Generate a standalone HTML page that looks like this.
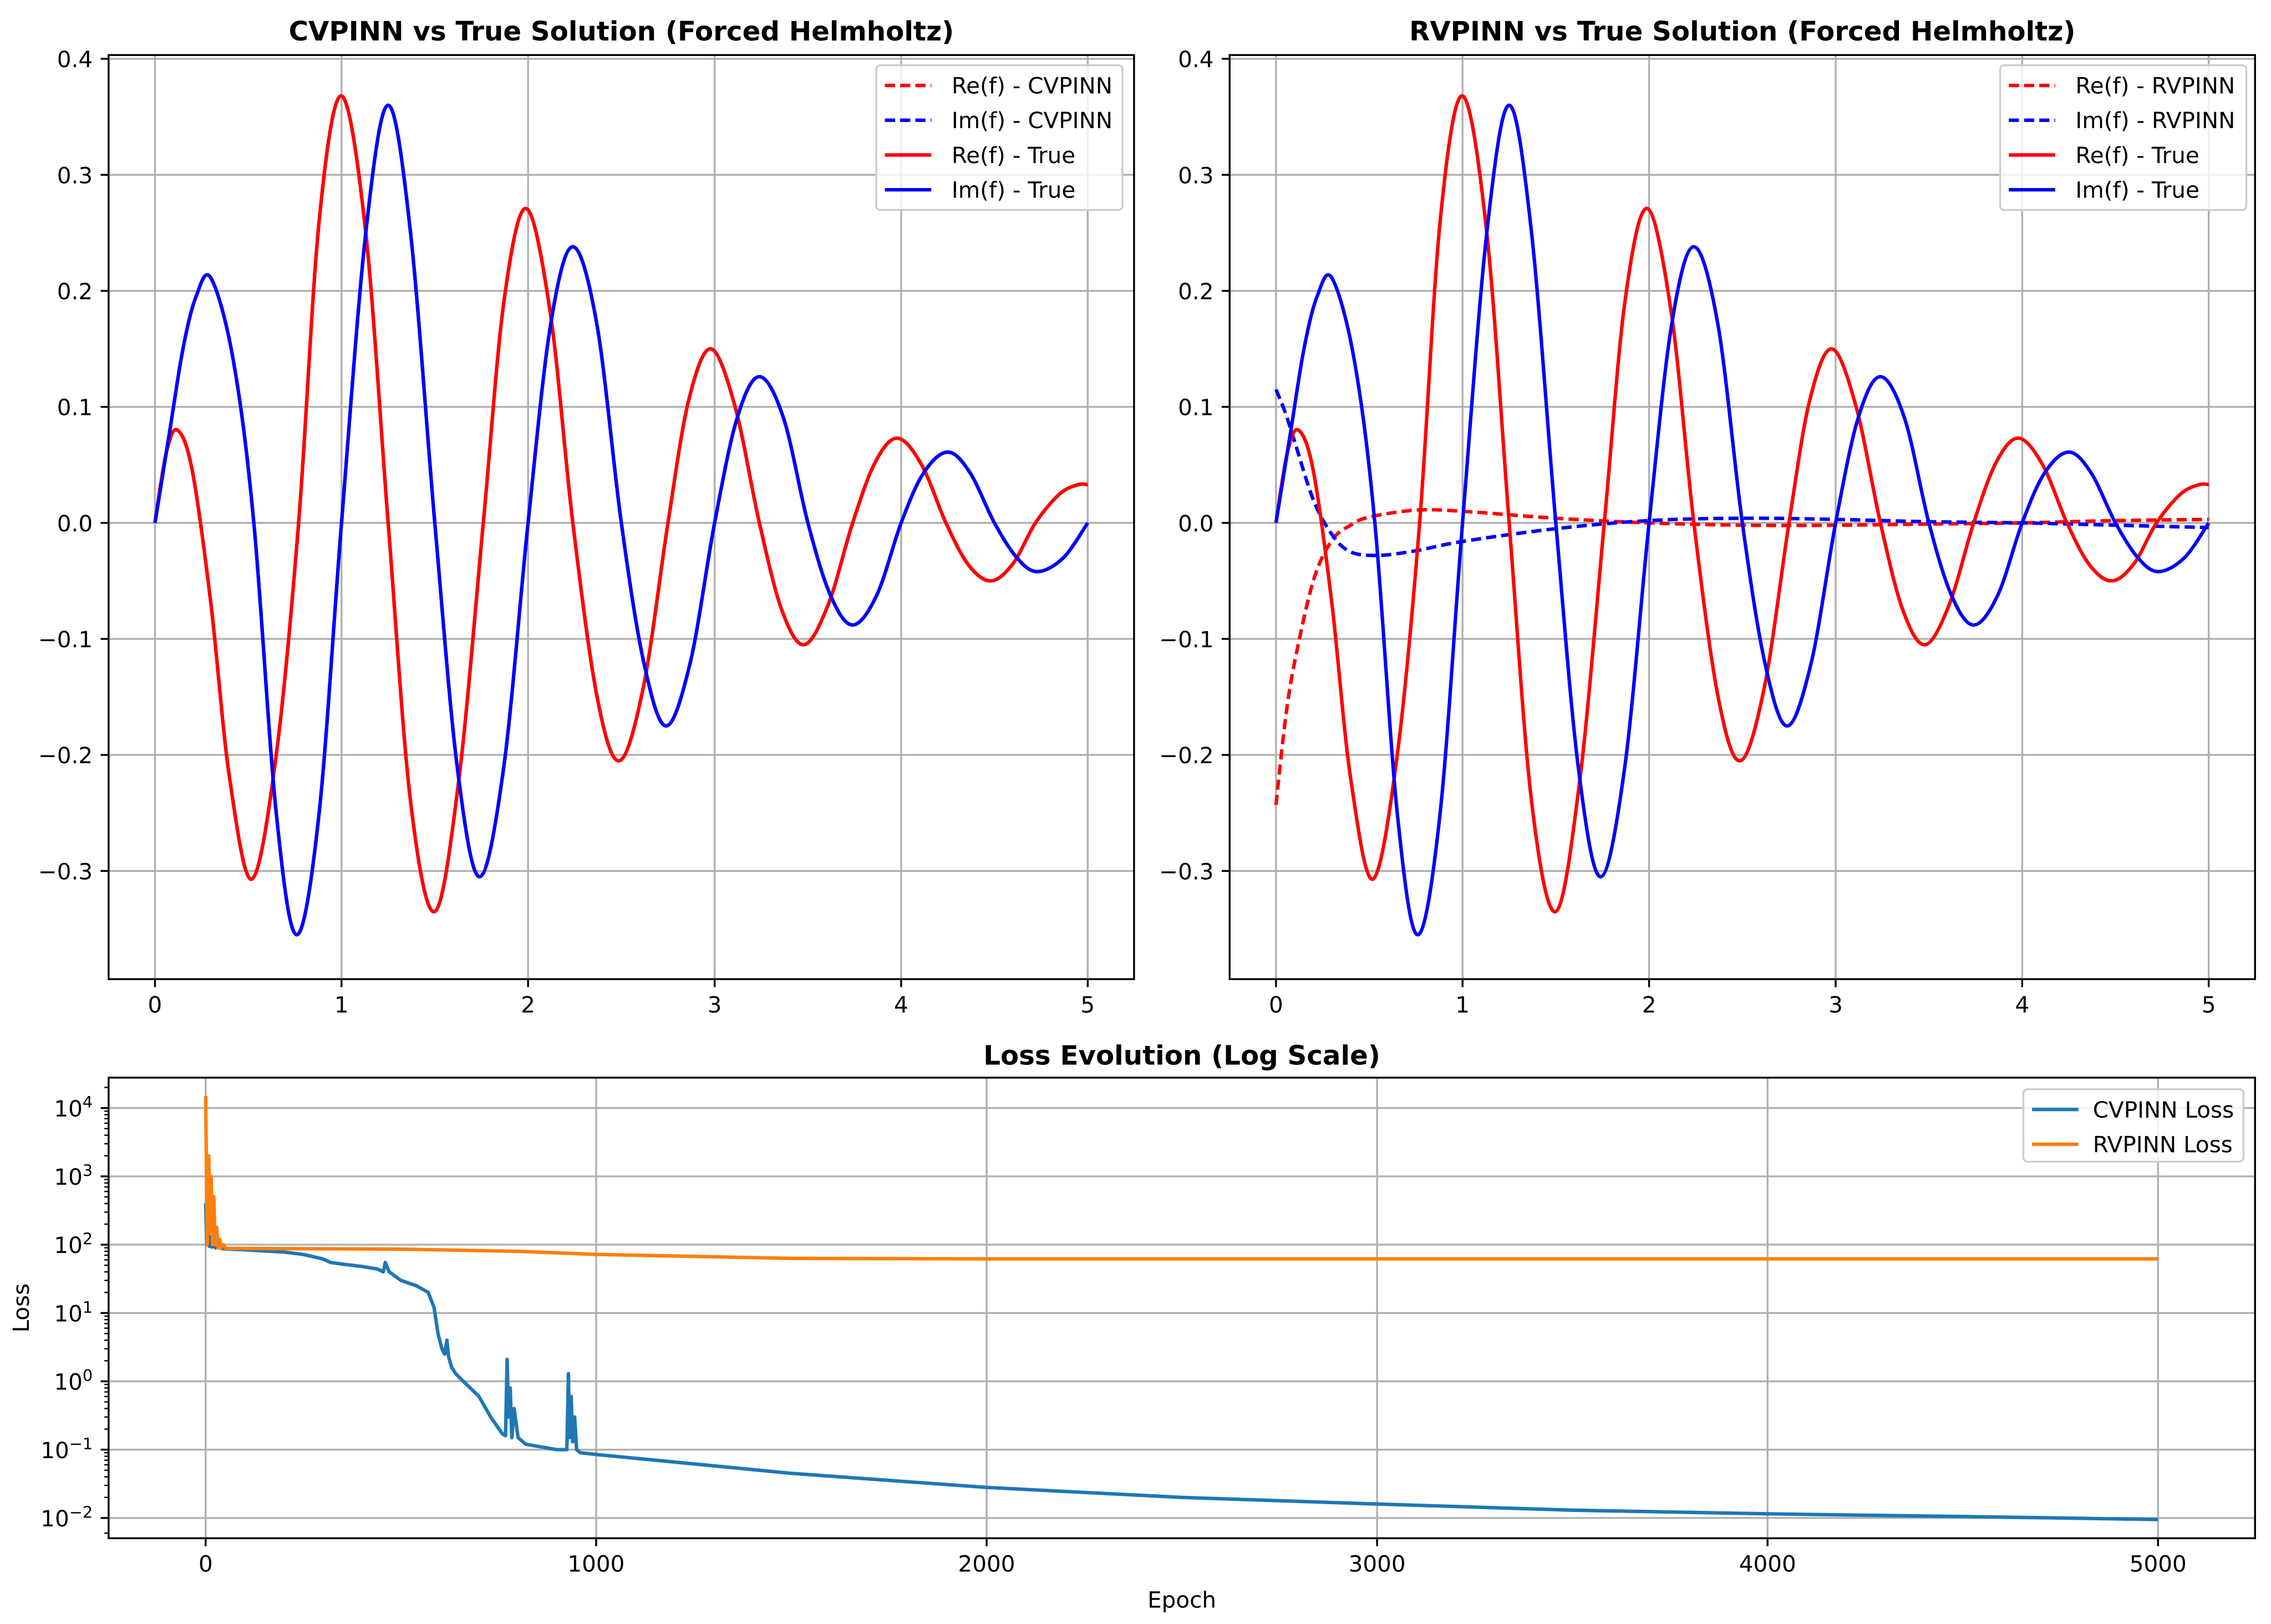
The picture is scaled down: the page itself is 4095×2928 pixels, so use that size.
<!DOCTYPE html>
<html><head><meta charset="utf-8"><style>
html,body{margin:0;padding:0;background:#fff;}
svg{display:block;font-family:"DejaVu Sans","Liberation Sans",sans-serif;}
</style></head><body>
<svg id="fig" width="4095" height="2928" viewBox="0 0 1568 1121.2" preserveAspectRatio="none" xmlns="http://www.w3.org/2000/svg">
<rect width="1568" height="1121.2" fill="#fff"/>
</svg>
<script>
// ---- data: top panels (x in [0,5]) ----
const trueReX = [0,0.06,0.12,0.2,0.3,0.4,0.52,0.65,0.77,0.88,1.0,1.13,1.25,1.37,1.5,1.63,1.76,1.87,1.99,2.12,2.24,2.37,2.49,2.62,2.75,2.86,2.98,3.11,3.24,3.36,3.48,3.61,3.74,3.86,3.98,4.11,4.24,4.36,4.48,4.6,4.72,4.85,4.95,5.0];
const trueReY = [0,0.06,0.08,0.045,-0.07,-0.22,-0.307,-0.2,0,0.26,0.368,0.25,0,-0.24,-0.335,-0.22,0,0.19,0.271,0.18,0,-0.15,-0.205,-0.14,0,0.105,0.15,0.1,0,-0.075,-0.105,-0.07,0,0.052,0.073,0.05,0,-0.036,-0.05,-0.035,0,0.025,0.033,0.033];
const trueImX = [0,0.08,0.15,0.22,0.3,0.42,0.53,0.65,0.76,0.88,1.0,1.13,1.25,1.37,1.5,1.62,1.74,1.87,2.0,2.12,2.24,2.37,2.5,2.62,2.74,2.87,3.0,3.12,3.24,3.37,3.5,3.62,3.74,3.87,4.0,4.12,4.25,4.37,4.5,4.62,4.73,4.87,5.0];
const trueImY = [0,0.08,0.15,0.195,0.211,0.14,0,-0.25,-0.355,-0.25,0,0.25,0.36,0.25,0,-0.21,-0.305,-0.21,0,0.17,0.238,0.17,0,-0.12,-0.175,-0.12,0,0.09,0.126,0.09,0,-0.062,-0.088,-0.062,0,0.043,0.061,0.043,0,-0.03,-0.042,-0.03,0];
const cvReY = [0,0.06,0.08,0.045,-0.07,-0.22,-0.307,-0.2,0,0.26,0.368,0.25,0,-0.24,-0.335,-0.22,0,0.19,0.271,0.18,0,-0.15,-0.205,-0.14,0,0.105,0.15,0.1,0,-0.075,-0.105,-0.07,0,0.052,0.073,0.05,0,-0.036,-0.05,-0.035,0,0.025,0.033,0.033];
const cvImY = [0,0.08,0.15,0.195,0.211,0.14,0,-0.25,-0.355,-0.25,0,0.25,0.36,0.25,0,-0.21,-0.305,-0.21,0,0.17,0.238,0.17,0,-0.12,-0.175,-0.12,0,0.09,0.126,0.09,0,-0.062,-0.088,-0.062,0,0.043,0.061,0.043,0,-0.03,-0.042,-0.03,0];
const rvReX = [0,0.05,0.1,0.2,0.3,0.4,0.5,0.75,1.0,1.5,2.0,2.5,3.0,3.5,4.0,4.5,5.0];
const rvReY = [-0.243,-0.17,-0.12,-0.05,-0.015,-0.002,0.005,0.011,0.01,0.004,0,-0.002,-0.002,-0.001,0,0.002,0.003];
const rvImX = [0,0.05,0.1,0.2,0.3,0.4,0.55,0.75,1.0,1.5,2.0,2.5,3.0,3.5,4.0,4.5,5.0];
const rvImY = [0.115,0.095,0.07,0.02,-0.01,-0.025,-0.028,-0.024,-0.016,-0.005,0.002,0.004,0.003,0.001,0,-0.002,-0.004];
const topXTicks = [0,1,2,3,4,5];
const topYTicks = [-0.3,-0.2,-0.1,0.0,0.1,0.2,0.3,0.4];
// ---- data: loss ----
const cvLossEpoch = [0,3,6,9,12,16,20,25,30,40,60,100,200,250,300,320,350,400,440,455,460,470,500,540,570,585,595,605,612,618,622,630,640,660,700,730,760,768,772,776,780,784,790,800,820,900,925,929,932,936,940,945,950,960,1000,1500,2000,2500,3000,3500,4000,4500,5000];
const cvLossVal = [400,100,150,95,130,92,110,90,100,88,86,84,78,72,62,55,52,48,44,40,55,40,30,25,20,12,5,3,2.5,4,2.3,1.6,1.3,1.0,0.6,0.3,0.17,0.16,2.1,0.3,0.8,0.15,0.4,0.15,0.12,0.1,0.1,1.3,0.15,0.6,0.13,0.3,0.1,0.09,0.085,0.045,0.028,0.02,0.016,0.013,0.0115,0.0105,0.0095];
const rvLossEpoch = [0,4,8,11,14,18,21,24,28,32,36,40,45,52,60,100,500,800,1000,1500,2000,5000];
const rvLossVal = [15000,100,2000,150,1000,100,500,100,180,90,120,90,100,88,88,88,86,80,72,63,62,62];
const lossXTicks = [0,1000,2000,3000,4000,5000];
const lossYExp = [-2,-1,0,1,2,3,4];

const NS='http://www.w3.org/2000/svg';
const svg=document.getElementById('fig');
const FS=15.5, TFS=18.5;
function el(tag,attrs,parent){const e=document.createElementNS(NS,tag);for(const k in attrs)e.setAttribute(k,attrs[k]);(parent||svg).appendChild(e);return e;}
function crPath(pts){let d='M'+pts[0][0].toFixed(2)+','+pts[0][1].toFixed(2);
 for(let i=0;i<pts.length-1;i++){const p0=pts[i-1]||pts[i],p1=pts[i],p2=pts[i+1],p3=pts[i+2]||pts[i+1];
  const c1=[p1[0]+(p2[0]-p0[0])/6,p1[1]+(p2[1]-p0[1])/6],c2=[p2[0]-(p3[0]-p1[0])/6,p2[1]-(p3[1]-p1[1])/6];
  d+='C'+c1.map(v=>v.toFixed(2)).join(',')+' '+c2.map(v=>v.toFixed(2)).join(',')+' '+p2[0].toFixed(2)+','+p2[1].toFixed(2);}
 return d;}
function linPath(pts){return pts.map((p,i)=>(i?'L':'M')+p[0].toFixed(2)+','+p[1].toFixed(2)).join('');}

function topPanel(x0,title,name,seriesList,legendX){
 const L=x0,R=x0+708,T=38,B=676;
 const sx=v=>L+32+v*128.8, sy=v=>361-v*801;
 const g=el('g',{});
 
 
 topXTicks.forEach(t=>{el('line',{x1:sx(t),x2:sx(t),y1:T,y2:B,stroke:'#b0b0b0','stroke-width':1.3},g);
  el('line',{x1:sx(t),x2:sx(t),y1:B,y2:B+5.5,stroke:'#000','stroke-width':1.3},g);
  const tx=el('text',{x:sx(t),y:B+23,'font-size':FS,'text-anchor':'middle'},g);tx.textContent=t;
  });
 topYTicks.forEach(t=>{el('line',{x1:L,x2:R,y1:sy(t),y2:sy(t),stroke:'#b0b0b0','stroke-width':1.3},g);
  el('line',{x1:L-5.5,x2:L,y1:sy(t),y2:sy(t),stroke:'#000','stroke-width':1.3},g);
  const tx=el('text',{x:L-11,y:sy(t)+5.8,'font-size':FS,'text-anchor':'end'},g);tx.textContent=(t<0?'\u2212':'')+Math.abs(t).toFixed(1);
  });
 seriesList.forEach(s=>{const pts=s.x.map((xv,i)=>[sx(xv),sy(s.y[i])]);
  const p=el('path',{d:crPath(pts),fill:'none',stroke:s.c,'stroke-width':2.4,'stroke-dasharray':s.dash?'7,3.5':'none','stroke-linejoin':'round'},g);
  });
 el('rect',{x:L,y:T,width:R-L,height:B-T,fill:'none',stroke:'#000','stroke-width':1.3},g);
 const tt=el('text',{x:(L+R)/2,y:T-10,'font-size':TFS,'font-weight':'bold','text-anchor':'middle'},g);tt.textContent=title;
 
 const lg=el('g',{},g);
 el('rect',{x:legendX,y:45,width:170,height:100,rx:3,fill:'#fff','fill-opacity':0.8,stroke:'#ccc','stroke-width':1.3},lg);
 seriesList.forEach((s,i)=>{const yy=59+i*24;
  el('line',{x1:legendX+6,x2:legendX+38,y1:yy,y2:yy,stroke:s.c,'stroke-width':2.4,'stroke-dasharray':s.dash?'7,3.5':'none'},lg);
  const t=el('text',{x:legendX+52,y:yy+5.5,'font-size':FS},lg);t.textContent=s.label;
  });
}
topPanel(75,'CVPINN vs True Solution (Forced Helmholtz)','cvpinn-panel',[
 {x:trueReX,y:cvReY,c:'#ff0000',dash:true,label:'Re(f) - CVPINN',n:'re-cvpinn-line'},
 {x:trueImX,y:cvImY,c:'#0000ff',dash:true,label:'Im(f) - CVPINN',n:'im-cvpinn-line'},
 {x:trueReX,y:trueReY,c:'#ff0000',dash:false,label:'Re(f) - True',n:'re-true-line'},
 {x:trueImX,y:trueImY,c:'#0000ff',dash:false,label:'Im(f) - True',n:'im-true-line'}],605);
topPanel(849,'RVPINN vs True Solution (Forced Helmholtz)','rvpinn-panel',[
 {x:rvReX,y:rvReY,c:'#ff0000',dash:true,label:'Re(f) - RVPINN',n:'re-rvpinn-line'},
 {x:rvImX,y:rvImY,c:'#0000ff',dash:true,label:'Im(f) - RVPINN',n:'im-rvpinn-line'},
 {x:trueReX,y:trueReY,c:'#ff0000',dash:false,label:'Re(f) - True',n:'re-true-line'},
 {x:trueImX,y:trueImY,c:'#0000ff',dash:false,label:'Im(f) - True',n:'im-true-line'}],1381);

// ---- loss panel ----
(function(){
 const L=75,R=1557,T=744,B=1062;
 const sx=v=>142+v*0.2696, sy=v=>1048-(Math.log10(v)+2)*47.17;
 const g=el('g',{});
 lossXTicks.forEach(t=>{el('line',{x1:sx(t),x2:sx(t),y1:T,y2:B,stroke:'#b0b0b0','stroke-width':1.3},g);
  el('line',{x1:sx(t),x2:sx(t),y1:B,y2:B+5.5,stroke:'#000','stroke-width':1.3},g);
  const tx=el('text',{x:sx(t),y:B+23,'font-size':FS,'text-anchor':'middle'},g);tx.textContent=t;
  });
 lossYExp.forEach(e=>{const y=sy(Math.pow(10,e));
  el('line',{x1:L,x2:R,y1:y,y2:y,stroke:'#b0b0b0','stroke-width':1.3},g);
  el('line',{x1:L-5.5,x2:L,y1:y,y2:y,stroke:'#000','stroke-width':1.3},g);
  for(let m=2;m<10;m++){const yy=sy(m*Math.pow(10,e));if(yy>T&&yy<B)el('line',{x1:L-3,x2:L,y1:yy,y2:yy,stroke:'#000','stroke-width':0.9},g);}
  const tx=el('text',{x:L-11,y:y+5.8,'font-size':FS,'text-anchor':'end'},g);
  
  const a=el('tspan',{},tx);a.textContent='10';
  const b=el('tspan',{dy:-6,'font-size':11},tx);b.textContent=(e<0?'\u2212':'')+Math.abs(e);
 });
 [0.006].forEach(v=>{const yy=sy(v);el('line',{x1:L-3,x2:L,y1:yy,y2:yy,stroke:'#000','stroke-width':0.9},g);});
 const cv=el('path',{d:linPath(cvLossEpoch.map((e,i)=>[sx(e),sy(cvLossVal[i])])),fill:'none',stroke:'#1f77b4','stroke-width':2.4,'stroke-linejoin':'round'},g);
 
 const rv=el('path',{d:linPath(rvLossEpoch.map((e,i)=>[sx(e),sy(rvLossVal[i])])),fill:'none',stroke:'#ff7f0e','stroke-width':2.4,'stroke-linejoin':'round'},g);
 
 el('rect',{x:L,y:T,width:R-L,height:B-T,fill:'none',stroke:'#000','stroke-width':1.3},g);
 const tt=el('text',{x:(L+R)/2,y:T-9,'font-size':TFS,'font-weight':'bold','text-anchor':'middle'},g);tt.textContent='Loss Evolution (Log Scale)';
 
 const xl=el('text',{x:(L+R)/2,y:1110,'font-size':FS,'text-anchor':'middle'},g);xl.textContent='Epoch';
 
 const yl=el('text',{x:0,y:0,'font-size':FS,'text-anchor':'middle',transform:'translate(20,903) rotate(-90)'},g);yl.textContent='Loss';
 
 const lg=el('g',{},g);
 el('rect',{x:1397,y:752,width:152,height:50,rx:3,fill:'#fff','fill-opacity':0.8,stroke:'#ccc','stroke-width':1.3},lg);
 [['CVPINN Loss','#1f77b4'],['RVPINN Loss','#ff7f0e']].forEach((s,i)=>{const yy=766+i*24;
  el('line',{x1:1403,x2:1435,y1:yy,y2:yy,stroke:s[1],'stroke-width':2.4},lg);
  const t=el('text',{x:1445,y:yy+5.5,'font-size':FS},lg);t.textContent=s[0];
  });
})();
</script>
</body></html>
